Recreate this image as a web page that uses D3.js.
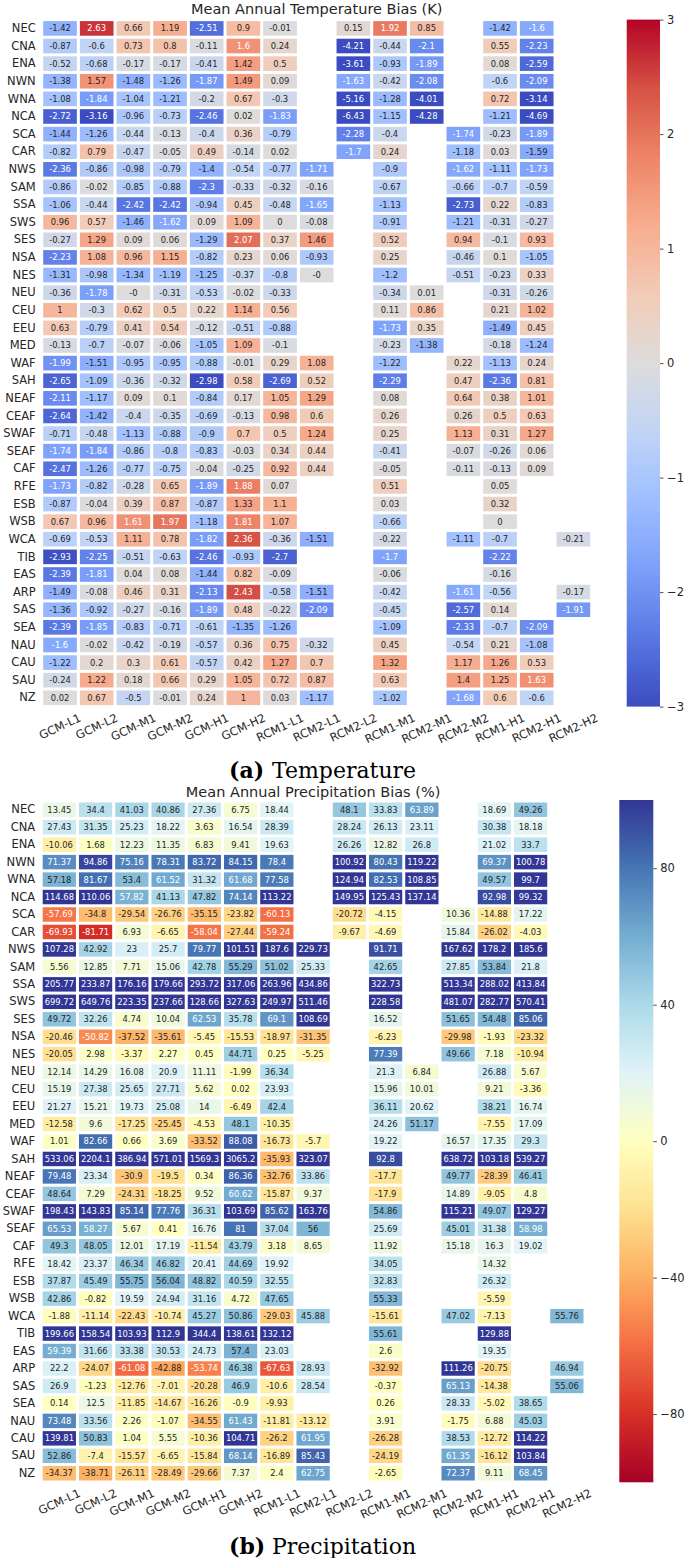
<!DOCTYPE html>
<html><head><meta charset="utf-8">
<script src="https://cdn.jsdelivr.net/npm/d3@7"></script>
<style>body{margin:0;background:#fff} svg{display:block}</style>
</head><body>
<svg id="chart" width="685" height="1558"></svg>
<script>
const regions = ["NEC","CNA","ENA","NWN","WNA","NCA","SCA","CAR","NWS","SAM","SSA","SWS","SES","NSA","NES","NEU","CEU","EEU","MED","WAF","SAH","NEAF","CEAF","SWAF","SEAF","CAF","RFE","ESB","WSB","WCA","TIB","EAS","ARP","SAS","SEA","NAU","CAU","SAU","NZ"];
const models = ["GCM-L1","GCM-L2","GCM-M1","GCM-M2","GCM-H1","GCM-H2","RCM1-L1","RCM2-L1","RCM2-L2","RCM1-M1","RCM2-M1","RCM2-M2","RCM1-H1","RCM2-H1","RCM2-H2"];

const tempBias = [
[-1.42, 2.63, 0.66, 1.19, -2.51, 0.9, -0.01, null, 0.15, 1.92, 0.85, null, -1.42, -1.6, null],
[-0.87, -0.6, 0.73, 0.8, -0.11, 1.6, 0.24, null, -4.21, -0.44, -2.1, null, 0.55, -2.23, null],
[-0.52, -0.68, -0.17, -0.17, -0.41, 1.42, 0.5, null, -3.61, -0.93, -1.89, null, 0.08, -2.59, null],
[-1.38, 1.57, -1.48, -1.26, -1.87, 1.49, 0.09, null, -1.63, -0.42, -2.08, null, -0.6, -2.09, null],
[-1.08, -1.84, -1.04, -1.21, -0.2, 0.67, -0.3, null, -5.16, -1.28, -4.01, null, 0.72, -3.14, null],
[-2.72, -3.16, -0.96, -0.73, -2.46, 0.02, -1.83, null, -6.43, -1.15, -4.28, null, -1.21, -4.69, null],
[-1.44, -1.26, -0.44, -0.13, -0.4, 0.36, -0.79, null, -2.28, -0.4, null, -1.74, -0.23, -1.89, null],
[-0.82, 0.79, -0.47, -0.05, 0.49, -0.14, 0.02, null, -1.7, 0.24, null, -1.18, 0.03, -1.59, null],
[-2.36, -0.86, -0.98, -0.79, -1.4, -0.54, -0.77, -1.71, null, -0.9, null, -1.62, -1.11, -1.73, null],
[-0.86, -0.02, -0.85, -0.88, -2.3, -0.33, -0.32, -0.16, null, -0.67, null, -0.66, -0.7, -0.59, null],
[-1.06, -0.44, -2.42, -2.42, -0.94, 0.45, -0.48, -1.65, null, -1.13, null, -2.73, 0.22, -0.83, null],
[0.96, 0.57, -1.46, -1.62, 0.09, 1.09, 0, -0.08, null, -0.91, null, -1.21, -0.31, -0.27, null],
[-0.27, 1.29, 0.09, 0.06, -1.29, 2.07, 0.37, 1.46, null, 0.52, null, 0.94, -0.1, 0.93, null],
[-2.23, 1.08, 0.96, 1.15, -0.82, 0.23, 0.06, -0.93, null, 0.25, null, -0.46, 0.1, -1.05, null],
[-1.31, -0.98, -1.34, -1.19, -1.25, -0.37, -0.8, -0, null, -1.2, null, -0.51, -0.23, 0.33, null],
[-0.36, -1.78, -0, -0.31, -0.53, -0.02, -0.33, null, null, -0.34, 0.01, null, -0.31, -0.26, null],
[1, -0.3, 0.62, 0.5, 0.22, 1.14, 0.56, null, null, 0.11, 0.86, null, 0.21, 1.02, null],
[0.63, -0.79, 0.41, 0.54, -0.12, -0.51, -0.88, null, null, -1.73, 0.35, null, -1.49, 0.45, null],
[-0.13, -0.7, -0.07, -0.06, -1.05, 1.09, -0.1, null, null, -0.23, -1.38, null, -0.18, -1.24, null],
[-1.99, -1.51, -0.95, -0.95, -0.88, -0.01, 0.29, 1.08, null, -1.22, null, 0.22, -1.13, 0.24, null],
[-2.65, -1.09, -0.36, -0.32, -2.98, 0.58, -2.69, 0.52, null, -2.29, null, 0.47, -2.36, 0.81, null],
[-2.11, -1.17, 0.09, 0.1, -0.84, 0.17, 1.05, 1.29, null, 0.08, null, 0.64, 0.38, 1.01, null],
[-2.64, -1.42, -0.4, -0.35, -0.69, -0.13, 0.98, 0.6, null, 0.26, null, 0.26, 0.5, 0.63, null],
[-0.71, -0.48, -1.13, -0.88, -0.9, 0.7, 0.5, 1.24, null, 0.25, null, 1.13, 0.31, 1.27, null],
[-1.74, -1.84, -0.86, -0.8, -0.83, -0.03, 0.34, 0.44, null, -0.41, null, -0.07, -0.26, 0.06, null],
[-2.47, -1.26, -0.77, -0.75, -0.04, -0.25, 0.92, 0.44, null, -0.05, null, -0.11, -0.13, 0.09, null],
[-1.73, -0.82, -0.28, 0.65, -1.89, 1.88, 0.07, null, null, 0.51, null, null, 0.05, null, null],
[-0.87, -0.04, 0.39, 0.87, -0.87, 1.33, 1.1, null, null, 0.03, null, null, 0.32, null, null],
[0.67, 0.96, 1.61, 1.97, -1.18, 1.81, 1.07, null, null, -0.66, null, null, 0, null, null],
[-0.69, -0.53, 1.11, 0.78, -1.82, 2.36, -0.36, -1.51, null, -0.22, null, -1.11, -0.7, null, -0.21],
[-2.93, -2.25, -0.51, -0.63, -2.46, -0.93, -2.7, null, null, -1.7, null, null, -2.22, null, null],
[-2.39, -1.81, 0.04, 0.08, -1.44, 0.82, -0.09, null, null, -0.06, null, null, -0.16, null, null],
[-1.49, -0.08, 0.46, 0.31, -2.13, 2.43, -0.58, -1.51, null, -0.42, null, -1.61, -0.56, null, -0.17],
[-1.36, -0.92, -0.27, -0.16, -1.89, 0.48, -0.22, -2.09, null, -0.45, null, -2.57, 0.14, null, -1.91],
[-2.39, -1.85, -0.83, -0.71, -0.61, -1.35, -1.26, null, null, -1.09, null, -2.33, -0.7, -2.09, null],
[-1.6, -0.02, -0.42, -0.19, -0.57, 0.36, 0.75, -0.32, null, 0.45, null, -0.54, 0.21, -1.08, null],
[-1.22, 0.2, 0.3, 0.61, -0.57, 0.42, 1.27, 0.7, null, 1.32, null, 1.17, 1.26, 0.53, null],
[-0.24, 1.22, 0.18, 0.66, 0.29, 1.05, 0.72, 0.87, null, 0.63, null, 1.4, 1.25, 1.63, null],
[0.02, 0.67, -0.5, -0.01, 0.24, 1, 0.03, -1.17, null, -1.02, null, -1.68, 0.6, -0.6, null]
];

const precipBias = [
[13.45, 34.4, 41.03, 40.86, 27.36, 6.75, 18.44, null, 48.1, 33.83, 63.89, null, 18.69, 49.26, null],
[27.43, 31.35, 25.23, 18.22, 3.63, 16.54, 28.39, null, 28.24, 26.13, 23.11, null, 30.38, 18.18, null],
[-10.06, 1.68, 12.23, 11.35, 6.83, 9.41, 19.63, null, 26.26, 12.82, 26.8, null, 21.02, 33.7, null],
[71.37, 94.86, 75.16, 78.31, 83.72, 84.15, 78.4, null, 100.92, 80.43, 119.22, null, 69.37, 100.78, null],
[57.18, 81.67, 53.4, 61.52, 31.32, 61.68, 77.58, null, 124.94, 82.53, 108.85, null, 49.57, 99.7, null],
[114.68, 110.06, 57.82, 41.13, 47.82, 74.14, 113.22, null, 149.95, 125.43, 137.14, null, 92.98, 99.32, null],
[-57.69, -34.8, -29.54, -26.76, -35.15, -23.82, -60.13, null, -20.72, -4.15, null, 10.36, -14.88, 17.22, null],
[-69.93, -81.71, 6.93, -6.65, -58.04, -27.44, -59.24, null, -9.67, -4.69, null, 15.84, -26.02, -4.03, null],
[107.28, 42.92, 23, 25.7, 79.77, 101.51, 187.6, 229.73, null, 91.71, null, 167.62, 178.2, 185.6, null],
[5.56, 12.85, 7.71, 15.06, 42.78, 55.29, 51.02, 25.33, null, 42.65, null, 27.85, 53.84, 21.8, null],
[205.77, 233.87, 176.16, 179.66, 293.72, 317.06, 263.96, 434.86, null, 322.73, null, 513.34, 288.02, 413.84, null],
[699.72, 649.76, 223.35, 237.66, 128.66, 327.63, 249.97, 511.46, null, 228.58, null, 481.07, 282.77, 570.41, null],
[49.72, 32.26, 4.74, 10.04, 62.53, 35.78, 69.1, 108.69, null, 16.52, null, 51.65, 54.48, 85.06, null],
[-20.46, -50.82, -37.52, -35.61, -5.45, -15.53, -18.97, -31.35, null, -6.23, null, -29.98, -1.93, -23.32, null],
[-20.05, 2.98, -3.37, 2.27, 0.45, 44.71, 0.25, -5.25, null, 77.39, null, 49.66, 7.18, -10.94, null],
[12.14, 14.29, 16.08, 20.9, 11.11, -1.99, 36.34, null, null, 21.3, 6.84, null, 26.88, 5.67, null],
[15.19, 27.38, 25.65, 27.71, 5.62, 0.02, 23.93, null, null, 15.96, 10.01, null, 9.21, -3.36, null],
[21.27, 15.21, 19.73, 25.08, 14, -6.49, 42.4, null, null, 36.11, 20.62, null, 38.21, 16.74, null],
[-12.58, 9.6, -17.25, -25.45, -4.53, 48.1, -10.35, null, null, 24.26, 51.17, null, -7.55, 17.09, null],
[1.01, 82.66, 0.66, 3.69, -33.52, 88.08, -16.73, -5.7, null, 19.22, null, 16.57, 17.35, 29.3, null],
[533.06, 2204.1, 386.94, 571.01, 1569.3, 3065.2, -35.93, 323.07, null, 92.8, null, 638.72, 103.18, 539.27, null],
[79.48, 23.34, -30.9, -19.5, 0.34, 86.36, -32.76, 33.86, null, -17.7, null, 49.77, -28.39, 46.41, null],
[48.64, 7.29, -24.31, -18.25, 9.52, 60.62, -15.87, 9.37, null, -17.9, null, 14.89, -9.05, 4.8, null],
[198.43, 143.83, 85.14, 77.76, 36.31, 103.69, 85.62, 163.76, null, 54.86, null, 115.21, 49.07, 129.27, null],
[65.53, 58.27, 5.67, 0.41, 16.76, 81, 37.04, 56, null, 25.69, null, 45.01, 31.38, 58.98, null],
[49.3, 48.05, 12.01, 17.19, -11.54, 43.79, 3.18, 8.65, null, 11.92, null, 15.18, 16.3, 19.02, null],
[18.42, 23.37, 46.34, 46.82, 20.41, 44.69, 19.92, null, null, 34.05, null, null, 14.32, null, null],
[37.87, 45.49, 55.75, 56.04, 48.82, 40.59, 32.55, null, null, 32.83, null, null, 26.32, null, null],
[42.86, -0.82, 19.59, 24.94, 31.16, 4.72, 47.65, null, null, 55.33, null, null, -5.59, null, null],
[-1.88, -11.14, -22.43, -10.74, 45.27, 50.86, -29.03, 45.88, null, -15.61, null, 47.02, -7.13, null, 55.76],
[199.66, 158.54, 103.93, 112.9, 344.4, 138.61, 132.12, null, null, 55.61, null, null, 129.88, null, null],
[59.39, 31.66, 33.38, 30.53, 24.73, 57.4, 23.03, null, null, 2.6, null, null, 19.35, null, null],
[22.2, -24.07, -61.08, -42.88, -53.74, 46.38, -67.63, 28.93, null, -32.92, null, 111.26, -20.75, null, 46.94],
[26.9, -1.23, -12.76, -7.01, -20.28, 46.9, -10.6, 28.54, null, -0.37, null, 65.13, -14.38, null, 55.06],
[0.14, 12.5, -11.85, -14.67, -16.26, -0.9, -9.93, null, null, 0.26, null, 28.33, -5.02, 38.65, null],
[73.48, 33.56, 2.26, -1.07, -34.55, 61.43, -11.81, -13.12, null, 3.91, null, -1.75, 6.88, 45.03, null],
[139.81, 50.83, 1.04, 5.55, -10.36, 104.71, -26.2, 61.95, null, -26.28, null, 38.53, -12.72, 114.22, null],
[52.86, -7.4, -15.57, -6.65, -15.84, 68.14, -16.89, 85.43, null, -24.19, null, 61.35, -16.12, 103.84, null],
[-34.37, -38.71, -26.11, -28.49, -29.66, 7.37, 2.4, 62.75, null, -2.65, null, 72.37, 9.11, 68.45, null]
];

const tempTicks = [3, 2, 1, 0, -1, -2, -3];
const precipTicks = [80, 40, 0, -40, -80];
const coolwarmColors = ["#3b4cc0","#5977e3","#7b9ff9","#9ebeff","#c0d4f5","#dddcdc","#f2cbb7","#f7ac8e","#ee8468","#d65244","#b40426"];
const rdylbuColors = ["#a50026","#d73027","#f46d43","#fdae61","#fee090","#ffffbf","#e0f3f8","#abd9e9","#74add1","#4575b4","#313695"];

const svg = d3.select("#chart");
const TEXT = "#262626";
const FONT = "'DejaVu Sans', sans-serif";
const ROT = 25;

function makeColor(vmin, vmax, colors) {
  const n = colors.length;
  return d3.scaleLinear()
    .domain(colors.map((c, i) => vmin + i * (vmax - vmin) / (n - 1)))
    .range(colors).interpolate(d3.interpolateRgb).clamp(true);
}
function relLum(c) {
  const o = d3.rgb(c);
  const f = v => { v /= 255; return v <= 0.03928 ? v / 12.92 : Math.pow((v + 0.055) / 1.055, 2.4); };
  return 0.2126 * f(o.r) + 0.7152 * f(o.g) + 0.0722 * f(o.b);
}
function fmt(v) { return Object.is(v, -0) ? "-0" : String(v); }

function heatmap(cfg) {
  const g = svg.append("g");
  const x = d3.scaleBand().domain(models).range([cfg.left, cfg.right]);
  const y = d3.scaleBand().domain(regions).range([cfg.top, cfg.bottom]);
  const color = makeColor(cfg.vmin, cfg.vmax, cfg.colors);
  const cells = [];
  cfg.values.forEach((row, i) => row.forEach((v, j) => {
    if (v !== null) cells.push({ r: regions[i], m: models[j], v });
  }));
  const gap = 1.5;
  g.selectAll("rect.cell").data(cells).join("rect").attr("class", "cell")
    .attr("x", d => x(d.m) + gap).attr("y", d => y(d.r) + gap)
    .attr("width", x.bandwidth() - 2 * gap).attr("height", y.bandwidth() - 2 * gap)
    .attr("fill", d => color(d.v));
  g.selectAll("text.val").data(cells).join("text").attr("class", "val")
    .attr("x", d => x(d.m) + x.bandwidth() / 2)
    .attr("y", d => y(d.r) + y.bandwidth() / 2).attr("dy", "0.35em")
    .attr("text-anchor", "middle").attr("font-size", 8.4).attr("font-family", FONT)
    .attr("fill", d => relLum(color(d.v)) > 0.408 ? TEXT : "#ffffff")
    .text(d => fmt(d.v));

  const ya = g.append("g").attr("transform", `translate(${cfg.left},0)`)
    .call(d3.axisLeft(y).tickSize(0).tickPadding(6));
  ya.select(".domain").remove();
  ya.selectAll("text").attr("font-size", 11.5).attr("font-family", FONT).attr("fill", TEXT);

  const xa = g.append("g").attr("transform", `translate(0,${cfg.bottom})`)
    .call(d3.axisBottom(x).tickSize(0));
  xa.select(".domain").remove();
  const s = Math.sin(ROT * Math.PI / 180), c = Math.cos(ROT * Math.PI / 180);
  xa.selectAll("text").attr("font-size", 11.5).attr("font-family", FONT).attr("fill", TEXT)
    .attr("text-anchor", "middle").attr("x", 0)
    .each(function () {
      const w = this.getComputedTextLength();
      const cy = 6.5 + (w * s + 8.4 * c) / 2;
      d3.select(this).attr("y", cy).attr("dy", "0.35em").attr("transform", `rotate(${-ROT},0,${cy})`);
    });

  svg.append("text").attr("x", (cfg.left + cfg.right) / 2).attr("y", cfg.titleY)
    .attr("text-anchor", "middle").attr("font-size", 14.5).attr("font-family", FONT)
    .attr("fill", TEXT).text(cfg.title);

  // colorbar
  const gid = cfg.id + "Grad";
  const grad = svg.append("defs").append("linearGradient").attr("id", gid)
    .attr("x1", 0).attr("y1", 1).attr("x2", 0).attr("y2", 0);
  d3.range(0, 201).forEach(k => grad.append("stop").attr("offset", k / 200)
    .attr("stop-color", color(cfg.vmin + k / 200 * (cfg.vmax - cfg.vmin))));
  svg.append("rect").attr("x", cfg.cbLeft).attr("y", cfg.cbTop)
    .attr("width", cfg.cbRight - cfg.cbLeft).attr("height", cfg.cbBottom - cfg.cbTop)
    .attr("fill", `url(#${gid})`);
  const cs = d3.scaleLinear().domain([cfg.vmin, cfg.vmax]).range([cfg.cbBottom, cfg.cbTop]);
  const ca = svg.append("g").attr("transform", `translate(${cfg.cbRight},0)`)
    .call(d3.axisRight(cs).tickValues(cfg.ticks).tickSize(3.5).tickPadding(3.5)
      .tickFormat(d => d < 0 ? "\u2212" + Math.abs(d) : String(d)));
  ca.select(".domain").remove();
  ca.selectAll("line").attr("stroke", TEXT).attr("stroke-width", 0.8);
  ca.selectAll("text").attr("font-size", 11.5).attr("font-family", FONT).attr("fill", TEXT);

  // caption
  const cap = svg.append("text").attr("y", cfg.capY).attr("font-family", "'DejaVu Serif', 'Liberation Serif', serif")
    .attr("font-size", 22).attr("fill", "#000");
  cap.append("tspan").attr("x", 229).attr("font-weight", "bold").text(cfg.capLabel);
  cap.append("tspan").attr("x", 272).text(cfg.capText);
}

heatmap({
  id: "temp", values: tempBias, colors: coolwarmColors, vmin: -3, vmax: 3, ticks: tempTicks,
  left: 41.7, right: 591.7, top: 19.6, bottom: 706.6,
  cbLeft: 626.7, cbRight: 660, cbTop: 19.6, cbBottom: 706.6,
  title: "Mean Annual Temperature Bias (K)", titleY: 14,
  capLabel: "(a)", capText: "Temperature", capY: 778
});
heatmap({
  id: "precip", values: precipBias, colors: rdylbuColors, vmin: -100, vmax: 100, ticks: precipTicks,
  left: 41.2, right: 585, top: 801, bottom: 1482,
  cbLeft: 619.3, cbRight: 653.3, cbTop: 800, cbBottom: 1482.3,
  title: "Mean Annual Precipitation Bias (%)", titleY: 796.7,
  capLabel: "(b)", capText: "Precipitation", capY: 1554
});
</script>
</body></html>
